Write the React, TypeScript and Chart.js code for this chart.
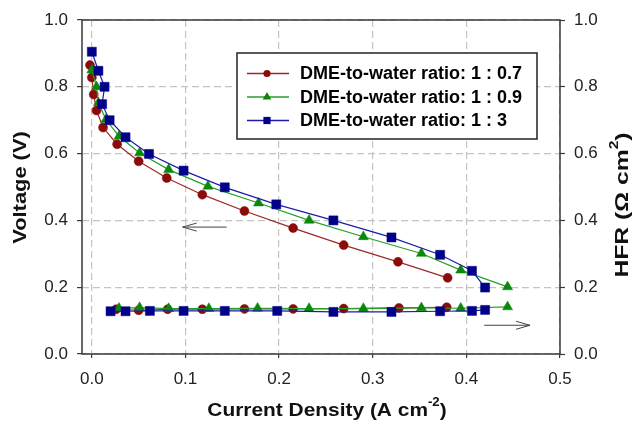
import React, { useEffect, useRef } from 'react';
import { Chart, registerables } from 'chart.js';

Chart.register(...registerables);

// ---- data ----
const seriesNames = [
  'DME-to-water ratio: 1 : 0.7',
  'DME-to-water ratio: 1 : 0.9',
  'DME-to-water ratio: 1 : 3',
];

const redCurrent = [-0.002, 0.0, 0.002, 0.005, 0.012, 0.027, 0.05, 0.08, 0.118, 0.163, 0.215, 0.269, 0.327, 0.38];
const redVoltage = [0.865, 0.828, 0.777, 0.729, 0.678, 0.628, 0.577, 0.527, 0.477, 0.428, 0.377, 0.326, 0.276, 0.228];

const greenCurrent = [0.0, 0.005, 0.007, 0.015, 0.029, 0.051, 0.082, 0.124, 0.178, 0.232, 0.29, 0.352, 0.394, 0.444];
const greenVoltage = [0.85, 0.8, 0.752, 0.702, 0.652, 0.602, 0.552, 0.502, 0.452, 0.4, 0.351, 0.301, 0.251, 0.201];

const blueCurrent = [0.0, 0.007, 0.0136, 0.011, 0.019, 0.036, 0.061, 0.098, 0.142, 0.197, 0.258, 0.32, 0.372, 0.406, 0.42];
const blueVoltage = [0.905, 0.848, 0.8, 0.748, 0.7, 0.649, 0.599, 0.549, 0.499, 0.448, 0.4, 0.349, 0.297, 0.249, 0.199];

const redHfrCurrent = [0.026, 0.05, 0.081, 0.118, 0.163, 0.215, 0.269, 0.328, 0.379];
const redHfr = [0.134, 0.131, 0.134, 0.134, 0.135, 0.135, 0.136, 0.138, 0.14];

const greenHfrCurrent = [0.029, 0.051, 0.082, 0.125, 0.177, 0.232, 0.29, 0.352, 0.394, 0.444];
const greenHfr = [0.137, 0.139, 0.136, 0.136, 0.137, 0.136, 0.136, 0.138, 0.137, 0.141];

const blueHfrCurrent = [0.02, 0.036, 0.062, 0.098, 0.142, 0.198, 0.258, 0.32, 0.372, 0.406, 0.42];
const blueHfr = [0.128, 0.128, 0.129, 0.129, 0.129, 0.129, 0.126, 0.126, 0.128, 0.129, 0.132];

const xTicks = [0, 0.1, 0.2, 0.3, 0.4, 0.5];
const yTicks = [0, 0.2, 0.4, 0.6, 0.8, 1.0];

// ---- styles ----
const FONT = "'Liberation Sans', Arial, Helvetica, sans-serif";
const colors = {
  red: { line: '#a02828', fill: '#8b0a0a' },
  green: { line: '#27a027', fill: '#0a880a' },
  blue: { line: '#1c1ca8', fill: '#00008a' },
};

const zip = (xs: number[], ys: number[]) => xs.map((x, i) => ({ x, y: ys[i] }));

function drawMarker(ctx: CanvasRenderingContext2D, style: string, x: number, y: number, r: number, fill: string) {
  ctx.fillStyle = fill;
  ctx.beginPath();
  if (style === 'circle') {
    ctx.arc(x, y, r, 0, Math.PI * 2);
  } else if (style === 'triangle') {
    ctx.moveTo(x, y - r);
    ctx.lineTo(x + r * 0.866, y + r * 0.5);
    ctx.lineTo(x - r * 0.866, y + r * 0.5);
    ctx.closePath();
  } else {
    ctx.rect(x - r, y - r, 2 * r, 2 * r);
  }
  ctx.fill();
}

function drawTitle(
  ctx: CanvasRenderingContext2D,
  base: string,
  sup: string,
  tail: string,
  cx: number,
  cy: number,
  angle: number,
  size: number,
  stretch: number
) {
  ctx.save();
  ctx.translate(cx, cy);
  ctx.rotate(angle);
  ctx.scale(stretch, 1);
  ctx.fillStyle = '#111';
  ctx.textBaseline = 'middle';
  ctx.textAlign = 'left';
  const bigFont = `bold ${size}px ${FONT}`;
  const smallFont = `bold ${Math.round(size * 0.62)}px ${FONT}`;
  ctx.font = bigFont;
  const wb = ctx.measureText(base).width;
  const wt = ctx.measureText(tail).width;
  ctx.font = smallFont;
  const ws = sup ? ctx.measureText(sup).width : 0;
  const total = wb + ws + wt;
  let x = -total / 2;
  ctx.font = bigFont;
  ctx.fillText(base, x, 0);
  x += wb;
  if (sup) {
    ctx.font = smallFont;
    ctx.fillText(sup, x, -size * 0.42);
    x += ws;
  }
  ctx.font = bigFont;
  ctx.fillText(tail, x, 0);
  ctx.restore();
}

function drawArrow(ctx: CanvasRenderingContext2D, x1: number, y1: number, x2: number, y2: number) {
  const dir = Math.sign(x2 - x1);
  ctx.save();
  ctx.strokeStyle = '#444';
  ctx.lineWidth = 1;
  ctx.beginPath();
  ctx.moveTo(x1, y1);
  ctx.lineTo(x2, y2);
  ctx.moveTo(x2 - dir * 14, y2 - 4);
  ctx.lineTo(x2, y2);
  ctx.lineTo(x2 - dir * 14, y2 + 4);
  ctx.stroke();
  ctx.restore();
}

const overlayPlugin = {
  id: 'overlay',
  beforeDatasetsDraw(chart: any) {
    const { ctx, chartArea: a } = chart;
    ctx.save();
    ctx.strokeStyle = '#3a3a3a';
    ctx.lineWidth = 1.5;
    ctx.strokeRect(a.left, a.top, a.right - a.left, a.bottom - a.top);
    ctx.restore();
  },
  afterDraw(chart: any) {
    const { ctx, chartArea: a } = chart;
    const xs = chart.scales.x;
    const ys = chart.scales.y;

    // arrows (pointing to the axis each curve family belongs to)
    drawArrow(ctx, xs.getPixelForValue(0.144), ys.getPixelForValue(0.38), xs.getPixelForValue(0.097), ys.getPixelForValue(0.38));
    drawArrow(ctx, xs.getPixelForValue(0.419), ys.getPixelForValue(0.086), xs.getPixelForValue(0.468), ys.getPixelForValue(0.086));

    // legend
    const bx = 237, by = 53, bw = 300, bh = 86;
    ctx.save();
    ctx.fillStyle = '#fff';
    ctx.fillRect(bx, by, bw, bh);
    ctx.strokeStyle = '#222';
    ctx.lineWidth = 1.5;
    ctx.strokeRect(bx, by, bw, bh);
    const items = [
      { c: colors.red, s: 'circle', r: 3.6 },
      { c: colors.green, s: 'triangle', r: 5 },
      { c: colors.blue, s: 'rect', r: 3.6 },
    ];
    items.forEach((it, i) => {
      const y = 73.5 + i * 23.5;
      ctx.strokeStyle = it.c.line;
      ctx.lineWidth = 1.3;
      ctx.beginPath();
      ctx.moveTo(247, y);
      ctx.lineTo(289, y);
      ctx.stroke();
      drawMarker(ctx, it.s, 267, y, it.r, it.c.fill);
      ctx.fillStyle = '#000';
      ctx.font = `bold 18px ${FONT}`;
      ctx.textBaseline = 'middle';
      ctx.textAlign = 'left';
      ctx.fillText(seriesNames[i], 300, y + 1);
    });
    ctx.restore();

    // axis titles
    drawTitle(ctx, 'Voltage (V)', '', '', 21, 187.5, -Math.PI / 2, 19, 1.15);
    drawTitle(ctx, 'HFR (\u03A9 cm', '2', ')', 623, 205, -Math.PI / 2, 19, 1.3);
    drawTitle(ctx, 'Current Density (A cm', '-2', ')', (a.left + a.right) / 2 + 6, 411, 0, 19, 1.1);
  },
};

export default function App() {
  const canvasRef = useRef<HTMLCanvasElement | null>(null);

  useEffect(() => {
    if (!canvasRef.current) return;
    const mk = (label: string, xs: number[], ys: number[], c: any, style: string, r: number, axis: string, order: number, lw: number) => ({
      label,
      data: zip(xs, ys),
      showLine: true,
      borderColor: c.line,
      borderWidth: lw,
      backgroundColor: c.fill,
      pointBackgroundColor: c.fill,
      pointBorderColor: c.fill,
      pointBorderWidth: 0.5,
      pointStyle: style,
      pointRadius: r,
      tension: 0,
      yAxisID: axis,
      order,
    });

    const chart = new Chart(canvasRef.current, {
      type: 'scatter',
      data: {
        datasets: [
          mk(seriesNames[0], redCurrent, redVoltage, colors.red, 'circle', 4.5, 'y', 2, 1.2),
          mk(seriesNames[1], greenCurrent, greenVoltage, colors.green, 'triangle', 5.8, 'y', 1, 1.2),
          mk(seriesNames[2], blueCurrent, blueVoltage, colors.blue, 'rect', 6.4, 'y', 0, 1.2),
          mk(seriesNames[0] + ' HFR', redHfrCurrent, redHfr, colors.red, 'circle', 4.5, 'y2', 2, 1.2),
          mk(seriesNames[1] + ' HFR', greenHfrCurrent, greenHfr, colors.green, 'triangle', 5.8, 'y2', 1, 1.2),
          mk(seriesNames[2] + ' HFR', blueHfrCurrent, blueHfr, colors.blue, 'rect', 6.4, 'y2', 0, 1.2),
        ] as any,
      },
      options: {
        animation: false,
        responsive: true,
        maintainAspectRatio: false,
        layout: { padding: { top: 20, left: 0, right: 0, bottom: 0 } },
        plugins: { legend: { display: false }, tooltip: { enabled: false } },
        scales: {
          x: {
            type: 'linear',
            position: 'bottom',
            min: -0.0105,
            max: 0.5,
            afterBuildTicks: (s: any) => {
              s.ticks = xTicks.map((v) => ({ value: v }));
            },
            afterFit: (s: any) => {
              s.height = 71;
            },
            border: { display: false, dash: [7, 4] },
            grid: {
              color: '#c4c4c4',
              lineWidth: 1.2,
              drawTicks: true,
              tickLength: 4,
              tickColor: '#3a3a3a',
              tickWidth: 1.2,
              tickBorderDash: [],
            },
            ticks: {
              color: '#222',
              font: { family: FONT, size: 17 },
              padding: 11,
              maxRotation: 0,
              callback: (v: any) => Number(v).toFixed(1),
            },
          },
          y: {
            type: 'linear',
            position: 'left',
            min: 0,
            max: 1,
            afterBuildTicks: (s: any) => {
              s.ticks = yTicks.map((v) => ({ value: v }));
            },
            afterFit: (s: any) => {
              s.width = 82;
            },
            border: { display: false, dash: [7, 4] },
            grid: {
              color: '#c4c4c4',
              lineWidth: 1.2,
              drawTicks: true,
              tickLength: 5,
              tickColor: '#3a3a3a',
              tickWidth: 1.2,
              tickBorderDash: [],
            },
            ticks: {
              color: '#222',
              font: { family: FONT, size: 17 },
              padding: 9,
              callback: (v: any) => Number(v).toFixed(1),
            },
          },
          y2: {
            type: 'linear',
            position: 'right',
            min: 0,
            max: 1,
            afterBuildTicks: (s: any) => {
              s.ticks = yTicks.map((v) => ({ value: v }));
            },
            afterFit: (s: any) => {
              s.width = 84;
            },
            border: { display: false },
            grid: {
              drawOnChartArea: false,
              drawTicks: true,
              tickLength: 5,
              tickColor: '#3a3a3a',
              tickWidth: 1.2,
            },
            ticks: {
              color: '#222',
              font: { family: FONT, size: 17 },
              padding: 9,
              callback: (v: any) => Number(v).toFixed(1),
            },
          },
        },
      } as any,
      plugins: [overlayPlugin],
    });
    return () => chart.destroy();
  }, []);

  return (
    <div style={{ position: 'absolute', left: 0, top: 0, width: 644, height: 425, background: '#fff' }}>
      <canvas ref={canvasRef} />
    </div>
  );
}
